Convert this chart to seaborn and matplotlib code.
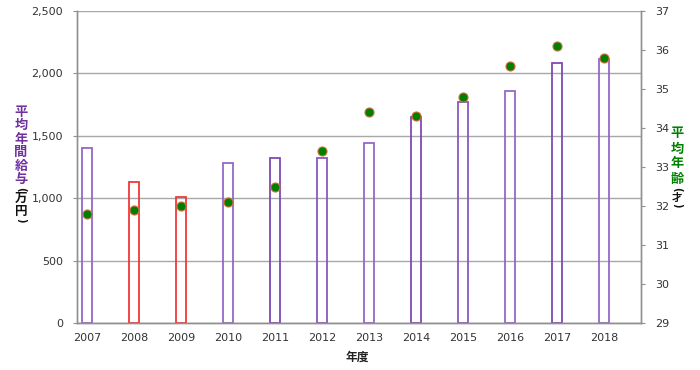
import numpy as np
import pandas as pd
import matplotlib
matplotlib.use('Agg')
import matplotlib.pyplot as plt
import seaborn as sns

# data
years = ['2007', '2008', '2009', '2010', '2011', '2012',
         '2013', '2014', '2015', '2016', '2017', '2018']
salary = [1400, 1132, 1007, 1285, 1325, 1320, 1440, 1648, 1771, 1859, 2086, 2113]
age = [31.8, 31.9, 32.0, 32.1, 32.5, 33.4, 34.4, 34.3, 34.8, 35.6, 36.1, 35.8]
bar_colors = ['#9468c8', '#f03838', '#f03838', '#9468c8', '#8048b8', '#8a58c0',
              '#9468c8', '#8048b8', '#8a58c0', '#9468c8', '#8048b8', '#9468c8']
left_ticks = [0, 500, 1000, 1500, 2000, 2500]
right_ticks = [29, 30, 31, 32, 33, 34, 35, 36, 37]

sns.set_style('white')
plt.rcParams['font.family'] = ['DejaVu Sans', 'Noto Sans CJK JP']

df = pd.DataFrame({'year': years, 'salary': salary, 'age': age})

W, H = 700, 370
fig = plt.figure(figsize=(W / 100, H / 100), dpi=100)
ax = fig.add_axes([77 / W, 1 - 323 / H, (641 - 77) / W, (323 - 11) / H])

# bars: outlined only, per-year edge colour
palette = dict(zip(years, bar_colors))
sns.barplot(data=df, x='year', y='salary', hue='year', palette=palette,
            fill=False, width=0.213, linewidth=1.3, legend=False, ax=ax)

# average age dots on the right axis
ax2 = ax.twinx()
sns.stripplot(data=df, x='year', y='age', jitter=False, color='#008000',
              edgecolor='#c8703c', linewidth=0.8, size=6.5, ax=ax2, zorder=3)

ax.set_xlim(-0.223, 11.777)
ax.set_ylim(0, 2500)
ax.set_yticks(left_ticks)
ax.set_yticklabels([f'{v:,}' for v in left_ticks])
ax2.set_ylim(29, 37)
ax2.set_yticks(right_ticks)
ax2.set_yticklabels([str(v) for v in right_ticks])

ax.set_xticks(range(len(years)))
ax.set_xticklabels(years)
ax.set_xticks(list(np.arange(len(years)) + 0.245) + [-0.223, 11.777], minor=True)

ax.grid(axis='y', color='#a8a8a8', linewidth=1)
ax.grid(axis='x', visible=False)
ax.set_xlabel('')
ax.set_ylabel('')
ax2.set_ylabel('')

for a in (ax, ax2):
    a.spines['top'].set_visible(False)
    for s in ('left', 'right', 'bottom'):
        a.spines[s].set_color('#909090')
        a.spines[s].set_linewidth(1)

ax.tick_params(axis='x', which='major', length=0, pad=7, labelsize=8, labelcolor='#333333')
ax.tick_params(axis='x', which='minor', length=3.5, color='#909090')
ax.tick_params(axis='y', length=3, pad=7, labelsize=8, labelcolor='#333333', color='#909090')
ax2.tick_params(axis='y', length=3, pad=7, labelsize=8, labelcolor='#333333', color='#909090')


# stacked vertical axis titles
def vertical_label(x, y_top, parts):
    y = y_top
    for text, color, pitch, size in parts:
        for ch in text:
            if ch in '()':
                fig.text(x / W, 1 - (y + 3) / H, ch, rotation=270, ha='center',
                         va='center', color=color, fontsize=7, fontweight='bold')
                y += 6.5
            else:
                fig.text(x / W, 1 - (y + pitch / 2) / H, ch, ha='center', va='center',
                         color=color, fontsize=size, fontweight='bold',
                         family=['Noto Sans CJK JP'])
                y += pitch


vertical_label(21, 105, [('平均年間給与', '#7030a0', 13.5, 9.5),
                         ('(万円)', '#111111', 12.5, 9)])
vertical_label(677, 126, [('平均年齢', '#008000', 15, 9.5),
                          ('(才)', '#111111', 10, 7.5)])

fig.text(357 / W, 1 - 357 / H, '年度', ha='center', va='center', fontsize=8.5,
         fontweight='bold', family=['Noto Sans CJK JP'], color='#222222')

fig.savefig('out.png', dpi=100)
